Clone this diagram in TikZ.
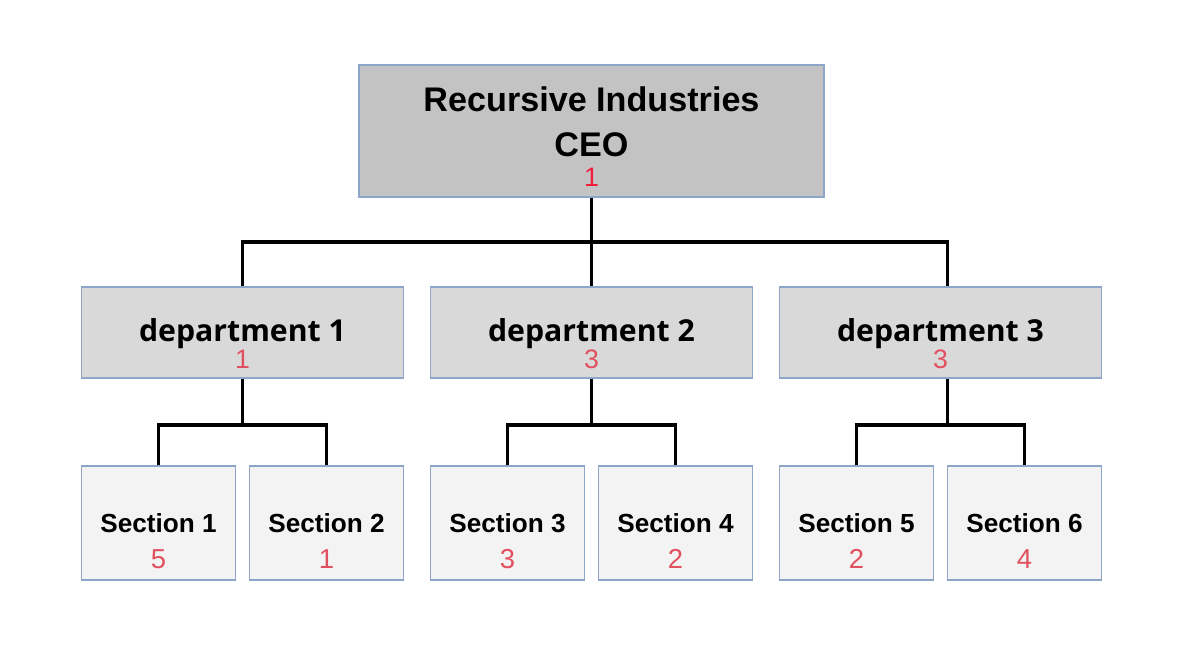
\documentclass[tikz,border=0pt]{standalone}
\usepackage{fontspec}
\setmainfont{Liberation Sans}
\newfontfamily\deptfont{Open Sans}

\definecolor{edgeblue}{RGB}{140,165,200}
\definecolor{ceofill}{RGB}{195,195,195}
\definecolor{deptfill}{RGB}{217,217,217}
\definecolor{secfill}{RGB}{243,243,243}
\definecolor{ceored}{RGB}{240,30,60}
\definecolor{numred}{RGB}{225,80,95}

\newcommand{\topgap}[1]{\rule{0pt}{#1}}
\newcommand{\ceonum}[1]{{\normalfont\fontsize{19pt}{19pt}\selectfont\color{ceored}#1}}
\newcommand{\deptnum}[1]{{\normalfont\fontsize{19pt}{19pt}\selectfont\color{numred}#1}}
\newcommand{\secnum}[1]{{\normalfont\fontsize{19.5pt}{19.5pt}\selectfont\color{numred}#1}}

\tikzstyle{link} = [line width=2.8pt, draw=black]
\tikzstyle{ceobox} = [
        rectangle,
        minimum width=11.625cm,
        minimum height=3.3cm,
        inner sep=0pt,
        align=center,
        draw=edgeblue,
        line width=1pt,
        fill=ceofill,
        font=\bfseries\fontsize{24.3pt}{32.6pt}\selectfont
    ]
\tikzstyle{deptbox} = [
        rectangle,
        minimum width=8.05cm,
        minimum height=2.275cm,
        inner sep=0pt,
        align=center,
        draw=edgeblue,
        line width=1pt,
        fill=deptfill,
        font=\deptfont\bfseries\fontsize{21.5pt}{19.1pt}\selectfont
    ]
\tikzstyle{secbox} = [
        rectangle,
        minimum width=3.85cm,
        minimum height=2.85cm,
        inner sep=0pt,
        align=center,
        draw=edgeblue,
        line width=1pt,
        fill=secfill,
        font=\bfseries\fontsize{18.6pt}{25.5pt}\selectfont
    ]

\begin{document}
\begin{tikzpicture}[node distance=8.725cm]

        \useasboundingbox (0,0) rectangle (30,-16.65);

        \node [ceobox] (ceo) at (14.7875,-3.275) {\topgap{25.5pt}Recursive Industries\\CEO\\[-11.3pt]\ceonum{1}};

        \node [deptbox, below of=ceo, node distance=5.0375cm] (dept2) {\topgap{32.6pt}department 2\\\deptnum{3}};
        \node [deptbox, left of=dept2] (dept1) {\topgap{32.6pt}department 1\\\deptnum{1}};
        \node [deptbox, right of=dept2] (dept3) {\topgap{32.6pt}department 3\\\deptnum{3}};

        \node [secbox, below of=dept1, node distance=4.7625cm, xshift=-2.1cm] (sec1) {\topgap{39.7pt}Section 1\\\secnum{5}};
        \node [secbox, below of=dept1, node distance=4.7625cm, xshift=2.1cm] (sec2) {\topgap{39.7pt}Section 2\\\secnum{1}};
        \node [secbox, below of=dept2, node distance=4.7625cm, xshift=-2.1cm] (sec3) {\topgap{39.7pt}Section 3\\\secnum{3}};
        \node [secbox, below of=dept2, node distance=4.7625cm, xshift=2.1cm] (sec4) {\topgap{39.7pt}Section 4\\\secnum{2}};
        \node [secbox, below of=dept3, node distance=4.7625cm, xshift=-2.1cm] (sec5) {\topgap{39.7pt}Section 5\\\secnum{2}};
        \node [secbox, below of=dept3, node distance=4.7625cm, xshift=2.1cm] (sec6) {\topgap{39.7pt}Section 6\\\secnum{4}};

        \coordinate [below of=ceo, node distance=2.775cm] (ceobus);
        \coordinate [below of=dept1, node distance=2.3125cm] (bus1);
        \coordinate [below of=dept2, node distance=2.3125cm] (bus2);
        \coordinate [below of=dept3, node distance=2.3125cm, xshift=0.175cm] (bus3);

        \draw [link] (ceo.south) -- (ceobus);
        \draw [link] (ceobus) -| (dept1.north);
        \draw [link] (ceobus) -| ([xshift=0.175cm]dept3.north);
        \draw [link] (ceobus) -- (dept2.north);
        \draw [link] (dept1.south) -- (bus1);
        \draw [link] (sec1.north) |- (bus1) -| (sec2.north);
        \draw [link] (dept2.south) -- (bus2);
        \draw [link] (sec3.north) |- (bus2) -| (sec4.north);
        \draw [link] ([xshift=0.175cm]dept3.south) -- (bus3);
        \draw [link] (sec5.north) |- (bus3) -| (sec6.north);

    \end{tikzpicture}
\end{document}
